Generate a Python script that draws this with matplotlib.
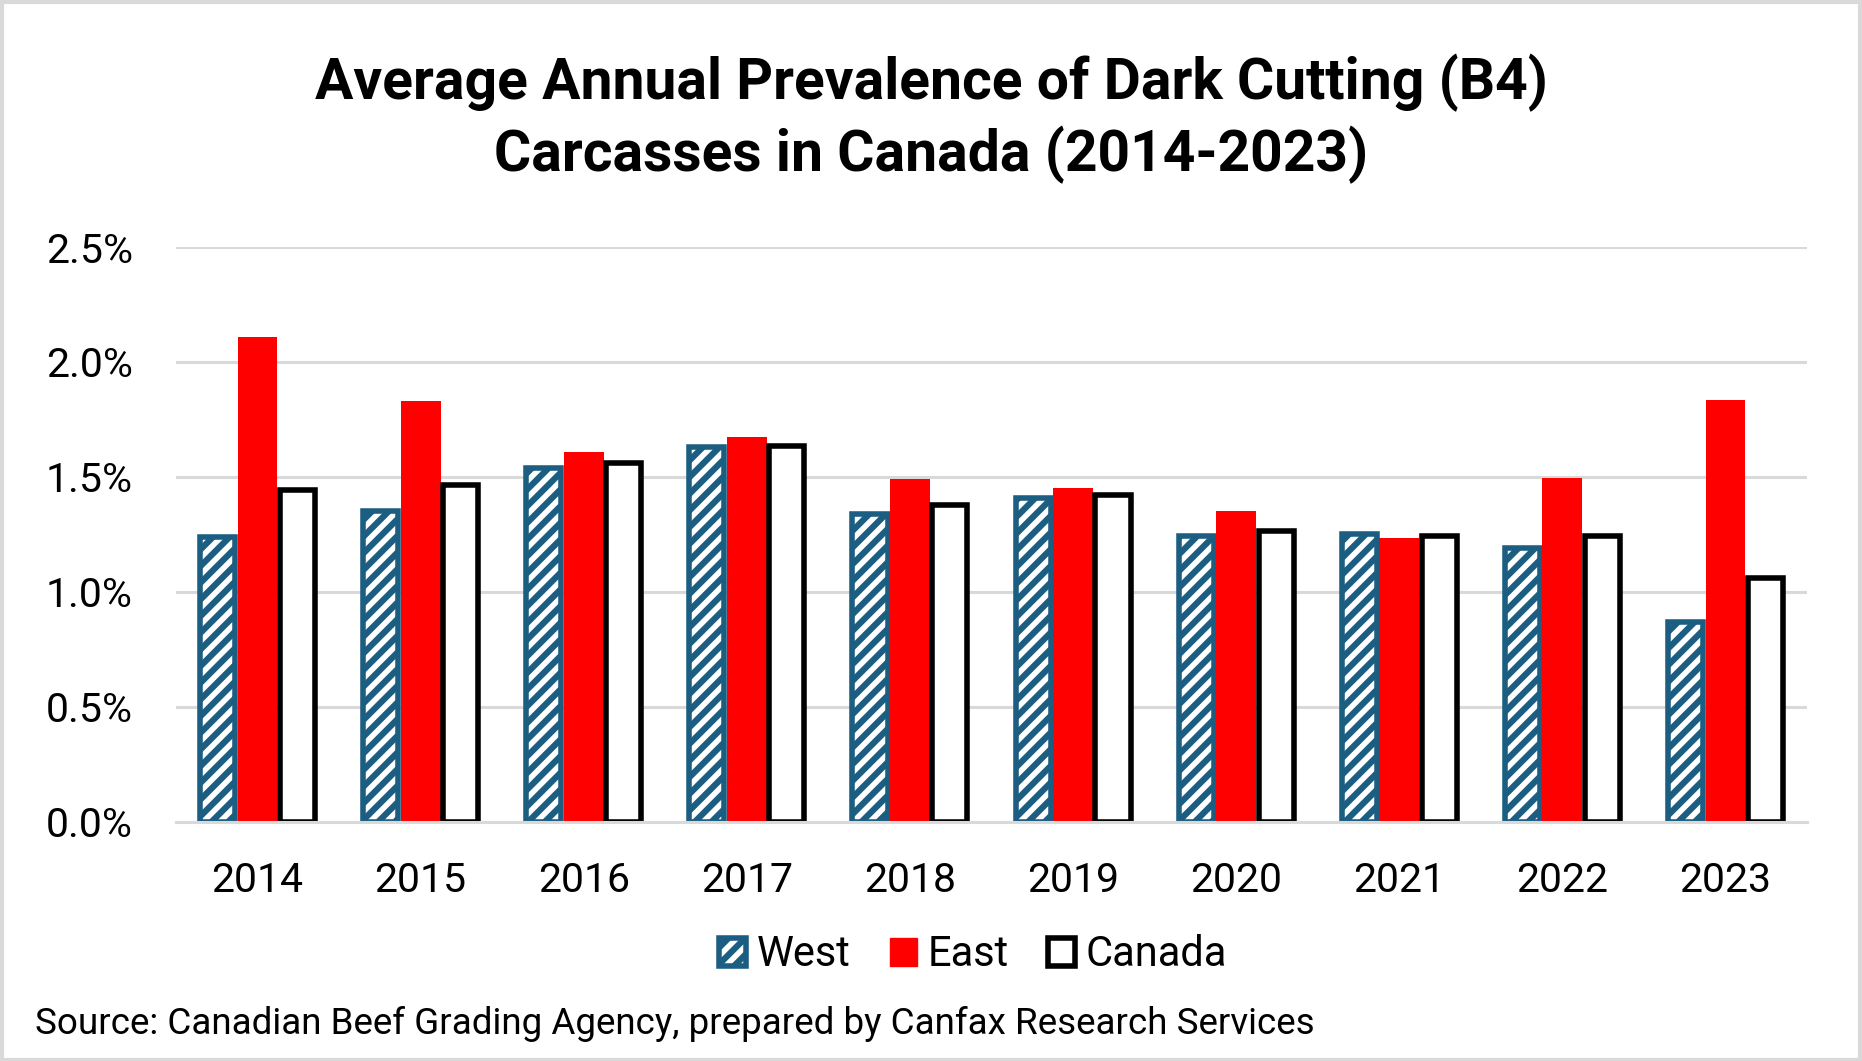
import matplotlib
matplotlib.use("Agg")
import matplotlib.pyplot as plt
import numpy as np
from matplotlib.patches import Patch, Rectangle

years = ["2014", "2015", "2016", "2017", "2018", "2019", "2020", "2021", "2022", "2023"]
west = [1.24, 1.35, 1.54, 1.63, 1.34, 1.41, 1.245, 1.25, 1.19, 0.87]
east = [2.11, 1.83, 1.61, 1.675, 1.49, 1.45, 1.35, 1.235, 1.495, 1.835]
canada = [1.445, 1.465, 1.56, 1.635, 1.38, 1.42, 1.265, 1.245, 1.245, 1.06]
yticks = [0.0, 0.5, 1.0, 1.5, 2.0, 2.5]

BLUE = "#1b5e82"
RED = "#ff0000"
GRID = "#d9d9d9"

plt.rcParams['font.family'] = ['Roboto', 'DejaVu Sans']
plt.rcParams['hatch.linewidth'] = 4.5

fig = plt.figure(figsize=(18.62, 10.61), dpi=100)
ax = fig.add_axes([0.0945, 0.2253, 0.876, 0.5419])

x = np.arange(len(years))
w = 0.245
ax.bar(x - w, west, width=w - 0.03, facecolor="white", edgecolor=BLUE, hatch="//", linewidth=4, zorder=3)
ax.bar(x, east, width=w, facecolor=RED, edgecolor=RED, linewidth=0, zorder=3)
ax.bar(x + w, canada, width=w - 0.03, facecolor="white", edgecolor="black", linewidth=4, zorder=3)

ax.set_xlim(-0.5, len(years) - 0.5)
ax.set_ylim(0, 2.5)
ax.set_yticks(yticks)
ax.set_yticklabels([f"{v:.1f}%" for v in yticks])
ax.set_xticks(x)
ax.set_xticklabels(years)
ax.tick_params(axis='both', length=0, labelsize=29.5, colors="black")
ax.tick_params(axis='x', pad=28)
ax.tick_params(axis='y', pad=31)
ax.yaxis.grid(True, color=GRID, linewidth=2.2, zorder=0)
for s in ["top", "right", "left"]:
    ax.spines[s].set_visible(False)
ax.spines["bottom"].set_color(GRID)
ax.spines["bottom"].set_linewidth(2.2)
ax.spines["bottom"].set_zorder(4)

fig.text(0.5, 0.922, "Average Annual Prevalence of Dark Cutting (B4)",
         ha="center", va="center", fontsize=41, fontweight="bold")
fig.text(0.5, 0.854, "Carcasses in Canada (2014-2023)",
         ha="center", va="center", fontsize=41, fontweight="bold")

handles = [
    Patch(facecolor="white", edgecolor=BLUE, hatch="//", linewidth=4, label="West"),
    Patch(facecolor=RED, edgecolor=RED, label="East"),
    Patch(facecolor="white", edgecolor="black", linewidth=4, label="Canada"),
]
fig.legend(handles=handles, loc="center", bbox_to_anchor=(0.5225, 0.1), ncol=3,
           frameon=False, fontsize=30, handlelength=0.65, handleheight=0.65,
           handletextpad=0.25, columnspacing=0.95)

fig.text(0.019, 0.035, "Source: Canadian Beef Grading Agency, prepared by Canfax Research Services",
         ha="left", va="center", fontsize=26.5)

fig.patches.append(Rectangle((0.001, 0.001), 0.998, 0.997, transform=fig.transFigure,
                             fill=False, edgecolor=GRID, linewidth=3))

fig.savefig("out.png", dpi=100)
